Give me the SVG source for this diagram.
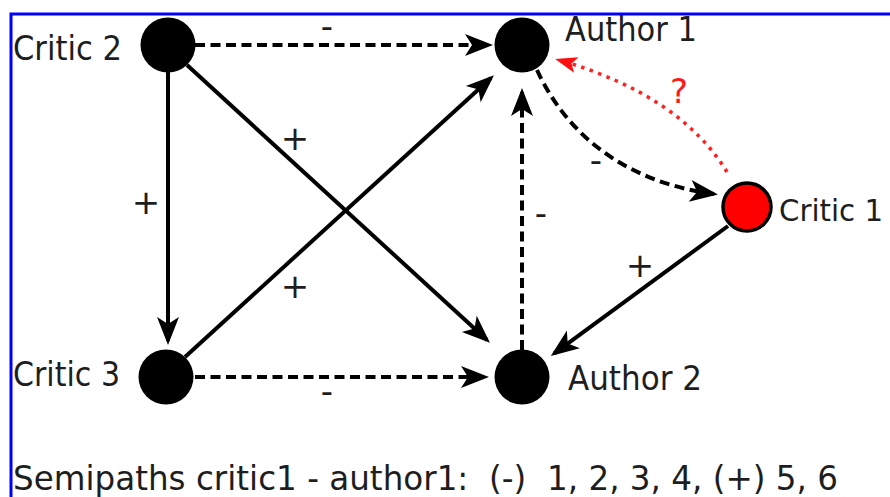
<svg xmlns="http://www.w3.org/2000/svg" width="890" height="497" viewBox="0 0 890 497">
  <style>
    text { font-family: "DejaVu Sans", "Liberation Sans", sans-serif; font-size: 34px; fill: #1e1e1e; }
    .lbl { text-anchor: middle; }
    .q { fill: #ff1a1a; }
    .solid { fill: none; stroke: #000; stroke-width: 4; }
    .dash { fill: none; stroke: #000; stroke-width: 4; stroke-dasharray: 10 5.5; }
    .dot { fill: none; stroke: #ff2020; stroke-width: 3.5; stroke-dasharray: 3.5 5.5; }
    .node { fill: #000; }
    .red { fill: #ff0000; stroke: #000; stroke-width: 3.5; }
  </style>
  <defs>
    <marker id="ah" viewBox="-26 -13 32 26" refX="0" refY="0" markerWidth="32" markerHeight="26" markerUnits="userSpaceOnUse" orient="auto">
      <path d="M4,0 L-24,-11 L-17,0 L-24,11 Z" fill="#000"/>
    </marker>
    <marker id="ahr" viewBox="-24 -12 30 24" refX="0" refY="0" markerWidth="30" markerHeight="24" markerUnits="userSpaceOnUse" orient="auto">
      <path d="M4,0 L-18,-8 L-13,0 L-18,8 Z" fill="#ff1010"/>
    </marker>
  </defs>
  <rect x="0" y="0" width="890" height="497" fill="#fff"/>
  <rect x="11" y="14" width="900" height="520" fill="none" stroke="#0000ff" stroke-width="3"/>

  <g id="connectors">
    <path class="dash" d="M195,45 L489,45" marker-end="url(#ah)"/>
    <path class="solid" d="M168,72 L168,341" marker-end="url(#ah)"/>
    <path class="solid" d="M187,65 L487,340" marker-end="url(#ah)"/>
    <path class="solid" d="M185,357 L491,78" marker-end="url(#ah)"/>
    <path class="dash" d="M195,377 L485,377" marker-end="url(#ah)"/>
    <path class="dash" d="M522,350 L522,92" marker-end="url(#ah)"/>
    <path class="dash" d="M537,70 C560,120 610,180 714,194" marker-end="url(#ah)"/>
    <path class="solid" d="M728,226 L554,353.6" marker-end="url(#ah)"/>
    <path class="dot" d="M727,172 Q680,95 559,60" marker-end="url(#ahr)"/>
    <text class="lbl" x="327" y="37.5">-</text>
    <text class="lbl" x="295" y="150">+</text>
    <text class="lbl" x="146" y="214">+</text>
    <text class="lbl" x="295" y="298">+</text>
    <text class="lbl" x="327" y="402.5">-</text>
    <text class="lbl" x="596" y="172">-</text>
    <text class="lbl" x="541" y="224.5">-</text>
    <text class="lbl" x="640" y="277">+</text>
    <text class="lbl q" x="679" y="102.5">?</text>
  </g>

  <g id="critic2">
    <circle class="node" cx="168" cy="45" r="27.5"/>
    <text x="13" y="60" textLength="109" lengthAdjust="spacingAndGlyphs">Critic 2</text>
  </g>
  <g id="critic3">
    <circle class="node" cx="166" cy="377" r="27.5"/>
    <text x="13" y="386" textLength="107" lengthAdjust="spacingAndGlyphs">Critic 3</text>
  </g>
  <g id="author1">
    <circle class="node" cx="522" cy="45" r="27.5"/>
    <text x="565" y="41" textLength="132" lengthAdjust="spacingAndGlyphs">Author 1</text>
  </g>
  <g id="author2">
    <circle class="node" cx="522" cy="377" r="27.5"/>
    <text x="568" y="390" textLength="134" lengthAdjust="spacingAndGlyphs">Author 2</text>
  </g>
  <g id="critic1">
    <circle class="red" cx="747" cy="207" r="24"/>
    <text x="779" y="221" style="font-size:31px" textLength="104" lengthAdjust="spacingAndGlyphs">Critic 1</text>
  </g>
  <g id="caption">
    <text x="13" y="490" textLength="825" lengthAdjust="spacingAndGlyphs" xml:space="preserve">Semipaths critic1 - author1:  (-)  1, 2, 3, 4, (+) 5, 6</text>
  </g>
</svg>
